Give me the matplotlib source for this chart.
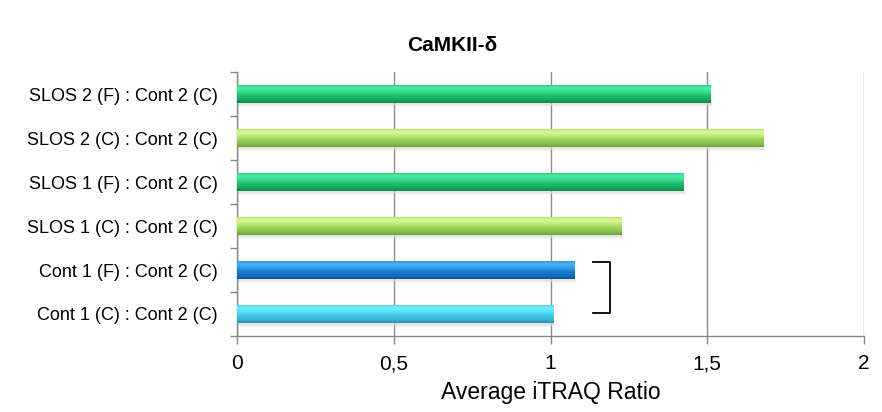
import numpy as np
import matplotlib
matplotlib.use("Agg")
import matplotlib.pyplot as plt
from matplotlib.colors import to_rgb

# ==== Data (bottom to top) ====
labels = ["Cont 1 (C) : Cont 2 (C)", "Cont 1 (F) : Cont 2 (C)",
          "SLOS 1 (C) : Cont 2 (C)", "SLOS 1 (F) : Cont 2 (C)",
          "SLOS 2 (C) : Cont 2 (C)", "SLOS 2 (F) : Cont 2 (C)"]
values = [1.01, 1.075, 1.225, 1.425, 1.68, 1.51]
colors = ["#40c8e8", "#1a7ccc", "#9ad456", "#22bf70", "#9ad456", "#22bf70"]
x_ticks = [0, 0.5, 1, 1.5, 2]
x_ticklabels = ["0", "0,5", "1", "1,5", "2"]

# bevel shading per bar colour, top -> bottom
shades = {
    "#22bf70": ["#2ec077", "#45f0a5", "#3ddf95", "#22bf70", "#1ba862", "#12884a"],
    "#9ad456": ["#a8dc68", "#dcf898", "#c4ec80", "#9ad456", "#8cc84c", "#6e9e3a"],
    "#1a7ccc": ["#2a8ad8", "#48b4f4", "#3aa0ea", "#1a7ccc", "#1570bc", "#0c5796"],
    "#40c8e8": ["#4ccde8", "#6ef0ff", "#5ce2fa", "#40c8e8", "#38b8d8", "#2890b0"],
}

plt.rcParams['font.family'] = ['Liberation Sans', 'DejaVu Sans']

fig = plt.figure(figsize=(8.82, 4.12), dpi=100)
ax = fig.add_axes([0.2687, 0.1845, 0.7109, 0.6405])

y = np.arange(len(labels))
bar_h = 0.42
bars = ax.barh(y, values, height=bar_h, color=colors, edgecolor="none", zorder=3)

for b, c in zip(bars, colors):
    x0, y0 = b.get_x(), b.get_y()
    w, h = b.get_width(), b.get_height()
    prof = [to_rgb(s) for s in shades[c]]
    stops = np.array([0, 0.2, 0.38, 0.6, 0.8, 1.0])
    t = np.linspace(0, 1, 60)
    grad = np.stack([np.interp(t, stops, [p[k] for p in prof]) for k in range(3)], axis=-1)
    im = ax.imshow(grad[:, None, :], extent=[x0, x0 + w, y0, y0 + h], origin="upper",
                   aspect="auto", zorder=3, interpolation="bilinear")
    im.set_clip_path(b)
    # soft shadow under the bar
    ax.fill_between([x0 + 0.005, x0 + w + 0.005], y0 - 0.06, y0, color="#d8d8d8",
                    alpha=0.6, lw=0, zorder=2)

ax.set_xlim(0, 2)
ax.set_ylim(-0.5, len(labels) - 0.5)
ax.set_xticks(x_ticks)
ax.set_xticklabels(x_ticklabels, fontsize=15)
ax.set_yticks(y)
ax.set_yticklabels(labels, fontsize=13)
ax.set_yticks(np.arange(-0.5, len(labels), 1), minor=True)
ax.tick_params(axis="y", which="major", length=0, pad=14)
ax.tick_params(axis="y", which="minor", length=5, color="#868686", width=1)
ax.tick_params(axis="x", length=6, color="#868686", width=1, pad=7)

ax.grid(axis="x", color="#8c8c8c", lw=1, zorder=1)
ax.set_axisbelow(True)
for s in ["top", "right"]:
    ax.spines[s].set_visible(False)
for s in ["left", "bottom"]:
    ax.spines[s].set_color("#868686")
    ax.spines[s].set_linewidth(1)

ax.set_xlabel("Average iTRAQ Ratio", fontsize=16.5, labelpad=6)
fig.text(0.513, 0.89, "CaMKII-δ", ha="center", va="center", fontsize=15, fontweight="bold")

# bracket joining the two control bars
ax.plot([1.136, 1.19, 1.19, 1.136], [1.18, 1.18, 0.02, 0.02], color="black", lw=1.3,
        solid_joinstyle="round", zorder=4)

fig.savefig("out.png", dpi=100)
